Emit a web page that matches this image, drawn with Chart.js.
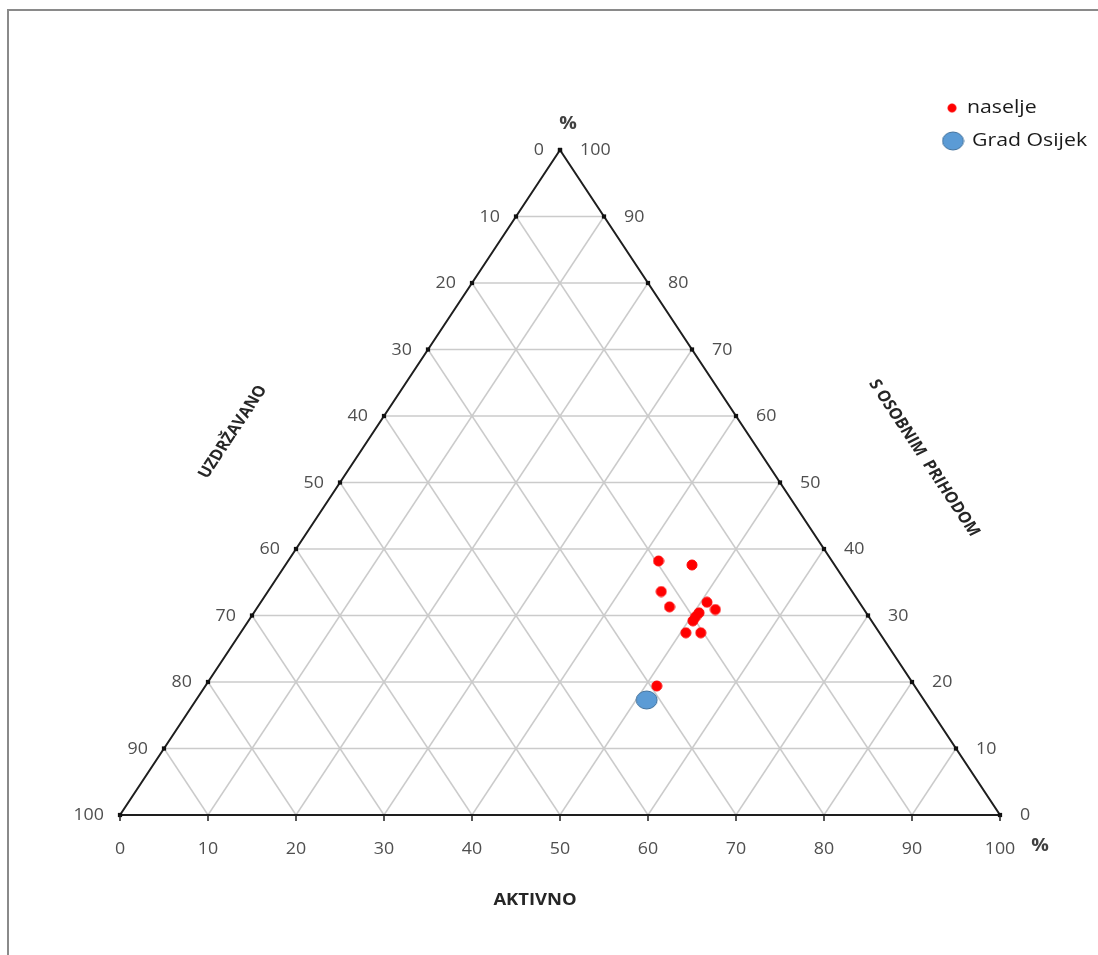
<!DOCTYPE html>
<html><head><meta charset="utf-8">
<script src="https://cdn.jsdelivr.net/npm/chart.js@4"></script>
<style>html,body{margin:0;padding:0;background:#fff}#wrap{width:1098px;height:955px;position:relative}</style>
</head><body><div id="wrap"><canvas id="c" width="1098" height="955"></canvas></div>
<script>
// ---- data (percent shares) ----
const seriesNames = ['naselje', 'Grad Osijek'];
const naseljeAktivno = [42.1, 46.2, 44.7, 46.8, 50.7, 52.2, 50.6, 50.5, 50.5, 50.6, 52.3, 51.3];
const naseljePrihod  = [38.2, 37.6, 33.6, 31.3, 32.0, 30.9, 30.4, 29.8, 29.2, 27.4, 27.4, 19.4];
const osijekAktivno = [51.2];
const osijekPrihod  = [17.3];
const tickValues = [0, 10, 20, 30, 40, 50, 60, 70, 80, 90, 100];
const titleBottom = 'AKTIVNO';
const titleLeft = 'UZDRŽAVANO';
const titleRight = 'S OSOBNIM  PRIHODOM';
const unitLabel = '%';

// ternary -> cartesian (x along AKTIVNO base, y = share "s osobnim prihodom")
function toXY(a, s) { return { x: a + s / 2, y: s }; }

const SX = 1.15; // horizontal stretch of the reference
const FONT = "'Open Sans', 'DejaVu Sans', sans-serif";

// grid
const gridColor = '#cbcbcb';
const datasets = [];
for (let k = 1; k <= 9; k++) {
  const v = k * 10;
  const lines = [
    [toXY(0, v), toXY(100 - v, v)],
    [toXY(v, 0), toXY(v, 100 - v)],
    [toXY(100 - v, 0), toXY(0, 100 - v)]
  ];
  lines.forEach(l => datasets.push({
    data: l, showLine: true, borderColor: gridColor, borderWidth: 1.5,
    pointRadius: 0, clip: false, order: 5
  }));
}
// triangle frame
datasets.push({
  data: [toXY(0, 0), toXY(100, 0), toXY(0, 100), toXY(0, 0)],
  showLine: true, borderColor: '#1e1e1e', borderWidth: 2, pointRadius: 0, clip: false, order: 3
});
// edge tick markers
datasets.push({
  data: tickValues.map(v => toXY(0, 100 - v)).concat(tickValues.map(v => toXY(100 - v, v))),
  showLine: false, pointStyle: 'rect', pointRadius: 3, backgroundColor: '#111', borderWidth: 0,
  clip: false, order: 2
});

// ellipse marker for Grad Osijek
function ellipseCanvas(w, h, fill, stroke) {
  const c = document.createElement('canvas');
  c.width = w + 2; c.height = h + 2;
  const g = c.getContext('2d');
  g.beginPath(); g.ellipse((w + 2) / 2, (h + 2) / 2, w / 2, h / 2, 0, 0, Math.PI * 2);
  g.fillStyle = fill; g.fill(); g.lineWidth = 1; g.strokeStyle = stroke; g.stroke();
  return c;
}
const blueMarker = ellipseCanvas(21, 18, '#5b9bd5', '#41719c');
const redMarker = ellipseCanvas(10, 10, '#ff0000', '#ff0000');

datasets.push({
  label: seriesNames[0],
  data: naseljeAktivno.map((a, i) => toXY(a, naseljePrihod[i])),
  pointStyle: redMarker, pointRadius: 5, clip: false, order: 1
});
datasets.push({
  label: seriesNames[1],
  data: osijekAktivno.map((a, i) => toXY(a, osijekPrihod[i])),
  pointStyle: blueMarker, pointRadius: 10, clip: false, order: 0
});

function txt(ctx, str, x, y, font, color, align, rot) {
  ctx.save();
  ctx.translate(x, y);
  ctx.scale(SX, 1);
  if (rot) ctx.rotate(rot);
  ctx.font = font; ctx.fillStyle = color;
  ctx.textAlign = align; ctx.textBaseline = 'middle';
  ctx.fillText(str, 0, 0);
  ctx.restore();
}

const decor = {
  id: 'decor',
  beforeDraw(chart) {
    const ctx = chart.ctx;
    ctx.save();
    ctx.fillStyle = '#fff'; ctx.fillRect(0, 0, chart.width, chart.height);
    ctx.strokeStyle = '#8a8a8a'; ctx.lineWidth = 2;
    ctx.beginPath(); ctx.moveTo(8, 955); ctx.lineTo(8, 10); ctx.lineTo(1098, 10); ctx.stroke();
    ctx.restore();
  },
  afterDraw(chart) {
    const ctx = chart.ctx;
    const xs = chart.scales.x, ys = chart.scales.y;
    const P = p => ({ x: xs.getPixelForValue(p.x), y: ys.getPixelForValue(p.y) });
    const tickFont = '15.5px ' + FONT, tickColor = '#4f4f4f';
    // bottom tick marks and labels
    ctx.save();
    ctx.strokeStyle = '#1e1e1e'; ctx.lineWidth = 1.5;
    tickValues.forEach(v => {
      const p = P(toXY(v, 0));
      ctx.beginPath(); ctx.moveTo(p.x, p.y); ctx.lineTo(p.x, p.y + 6); ctx.stroke();
    });
    ctx.restore();
    tickValues.forEach(v => {
      const b = P(toXY(v, 0));
      txt(ctx, String(v), b.x, b.y + 35, tickFont, tickColor, 'center');
      const l = P(toXY(0, 100 - v));
      txt(ctx, String(v), l.x - 16, l.y + 1, tickFont, tickColor, 'right');
      const r = P(toXY(100 - v, v));
      txt(ctx, String(v), r.x + 20, r.y + 1, tickFont, tickColor, 'left');
    });
    const top = P(toXY(0, 100)), br = P(toXY(100, 0));
    const titleFont = 'bold 15px ' + FONT, titleColor = '#404040';
    const unitFont = 'bold 17px ' + FONT;
    txt(ctx, unitLabel, top.x + 8, top.y - 26, unitFont, titleColor, 'center');
    txt(ctx, unitLabel, br.x + 40, br.y + 31, unitFont, titleColor, 'center');
    txt(ctx, titleBottom, 535, 900, 'bold 16px ' + FONT, '#262626', 'center');
    txt(ctx, titleLeft, 233, 432, titleFont, '#262626', 'center', -Math.PI / 3);
    txt(ctx, titleRight, 924, 458, titleFont, '#262626', 'center', Math.PI / 3);
    // legend
    ctx.drawImage(redMarker, 952 - 5, 108 - 5, 10, 10);
    ctx.drawImage(blueMarker, 953 - 11.5, 141 - 10);
    const legFont = '18.5px ' + FONT, legColor = '#1a1a1a';
    txt(ctx, seriesNames[0], 967, 108, legFont, legColor, 'left');
    txt(ctx, seriesNames[1], 972, 141, legFont, legColor, 'left');
  }
};

new Chart(document.getElementById('c'), {
  type: 'scatter',
  data: { datasets },
  options: {
    responsive: false, animation: false,
    layout: { padding: { left: 120, top: 150, right: 98, bottom: 140 } },
    scales: {
      x: { type: 'linear', min: 0, max: 100, display: false },
      y: { type: 'linear', min: 0, max: 100, display: false }
    },
    plugins: { legend: { display: false }, tooltip: { enabled: false } }
  },
  plugins: [decor]
});
</script></body></html>
